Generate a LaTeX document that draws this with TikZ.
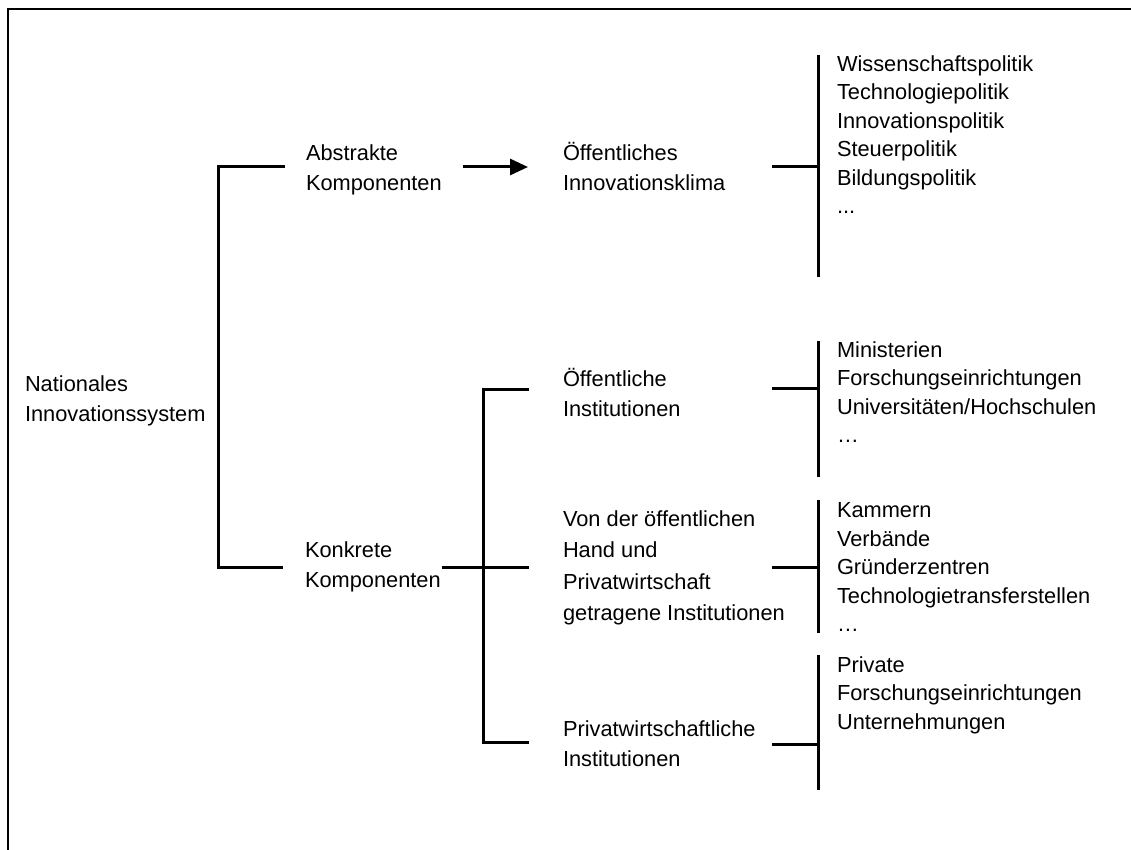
\documentclass[tikz,border=0pt]{standalone}
\usepackage{fontspec}
\setmainfont{Liberation Sans}
\usetikzlibrary{arrows.meta}
\begin{document}
\begin{tikzpicture}[x=1pt,y=-1pt,
  lbl/.style={anchor=north west, inner sep=0pt, outer sep=0pt, align=left,
    font=\fontsize{21.8}{30}\selectfont},
  lblwide/.style={lbl, font=\fontsize{21.8}{31.5}\selectfont},
  lst/.style={lbl, font=\fontsize{21.8}{28.5}\selectfont},
  conn/.style={line width=3pt, line join=miter},
  frame/.style={line width=2.3pt}]
\useasboundingbox (0,0) rectangle (1131,850);

% open frame: top and left edges only
\coordinate (fr-tr) at (1131,9.3);
\coordinate (fr-tl) at (8,9.3);
\coordinate (fr-bl) at (8,850);
\draw[frame] (fr-tr) -- (fr-tl) -- (fr-bl);

% labels
\node[lbl] (nis) at (25,370) {\strut Nationales\\Innovationssystem};
\node[lbl] (abs) at (306,140) {\strut Abstrakte\\Komponenten};
\node[lbl] (kon) at (305,536) {\strut Konkrete\\Komponenten};
\node[lbl] (oik) at (563,140) {\strut Öffentliches\\Innovationsklima};
\node[lbl] (oin) at (563,365) {\strut Öffentliche\\Institutionen};
\node[lblwide] (von) at (563,504) {\strut Von der öffentlichen\\Hand und\\Privatwirtschaft\\getragene Institutionen};
\node[lbl] (pri) at (563,715) {\strut Privatwirtschaftliche\\Institutionen};

% lists
\node[lst] (l1) at (837,51.5) {\strut Wissenschaftspolitik\\Technologiepolitik\\Innovationspolitik\\Steuerpolitik\\Bildungspolitik\\...};
\node[lst] (l2) at (837,337.5) {\strut Ministerien\\Forschungseinrichtungen\\Universitäten/Hochschulen\\…};
\node[lst] (l3) at (837,498) {\strut Kammern\\Verbände\\Gründerzentren\\Technologietransferstellen\\…};
\node[lst] (l4) at (837,652.5) {\strut Private\\Forschungseinrichtungen\\Unternehmungen};

% bracket from the national system to its two kinds of components
\coordinate (b1-a) at (285,167);
\coordinate (b1-t) at (218,167);
\coordinate (b1-b) at (218,567);
\coordinate (b1-k) at (283,567);
\draw[conn] (b1-a) -- (b1-t) -- (b1-b) -- (b1-k);

% abstract components lead to the innovation climate
\coordinate (ar-s) at (463,167);
\coordinate (ar-e) at (528,167);
\draw[conn, -{Triangle[length=18pt,width=16pt]}] (ar-s) -- (ar-e);

% bracket of the concrete components
\coordinate (b2-in) at (442,567);
\coordinate (b2-m) at (529,567);
\coordinate (b2-t0) at (529,389);
\coordinate (b2-t) at (483,389);
\coordinate (b2-b) at (483,742);
\coordinate (b2-b0) at (529,742);
\draw[conn] (b2-in) -- (b2-m);
\draw[conn] (b2-t0) -- (b2-t) -- (b2-b) -- (b2-b0);

% brackets of the four lists
\foreach \n/\y/\ya/\yb in {1/167/55/277, 2/388/341/477, 3/567/500/633, 4/744/655/790}{
  \coordinate (g\n-s) at (772,\y);
  \coordinate (g\n-j) at (818,\y);
  \coordinate (g\n-t) at (818,\ya);
  \coordinate (g\n-b) at (818,\yb);
  \draw[conn] (g\n-s) -- (g\n-j);
  \draw[conn] (g\n-t) -- (g\n-b);
}
\end{tikzpicture}
\end{document}
